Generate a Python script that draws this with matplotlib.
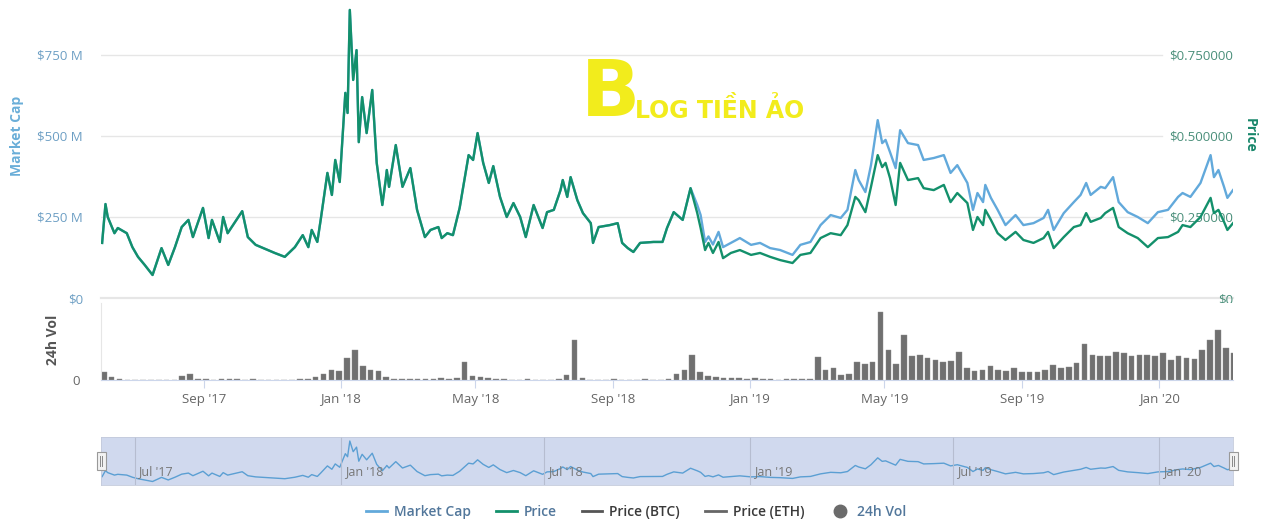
import matplotlib
matplotlib.use('Agg')
import matplotlib.pyplot as plt
import matplotlib.dates as mdates
from matplotlib.lines import Line2D
from matplotlib.patches import Rectangle
import pandas as pd

plt.rcParams['font.family'] = ['Open Sans', 'DejaVu Sans']

# Datos
fechas = ['2017-06-02', '2017-06-05', '2017-06-07', '2017-06-13', '2017-06-16', '2017-06-24', '2017-06-29',
          '2017-07-04', '2017-07-10', '2017-07-17', '2017-07-25', '2017-07-31', '2017-08-06', '2017-08-12',
          '2017-08-18', '2017-08-22', '2017-08-31', '2017-09-05', '2017-09-08', '2017-09-15', '2017-09-18',
          '2017-09-22', '2017-10-05', '2017-10-10', '2017-10-17', '2017-10-28', '2017-11-03', '2017-11-12',
          '2017-11-21', '2017-11-28', '2017-12-03', '2017-12-06', '2017-12-11', '2017-12-14', '2017-12-20',
          '2017-12-24', '2017-12-27', '2017-12-31', '2018-01-05', '2018-01-07', '2018-01-09', '2018-01-12',
          '2018-01-15', '2018-01-17', '2018-01-20', '2018-01-24', '2018-01-29', '2018-02-02', '2018-02-07',
          '2018-02-10', '2018-02-11', '2018-02-13', '2018-02-19', '2018-02-25', '2018-03-04', '2018-03-10',
          '2018-03-17', '2018-03-22', '2018-03-29', '2018-04-01', '2018-04-06', '2018-04-11', '2018-04-17',
          '2018-04-25', '2018-04-29', '2018-05-03', '2018-05-08', '2018-05-13', '2018-05-17', '2018-05-23',
          '2018-05-29', '2018-06-04', '2018-06-10', '2018-06-15', '2018-06-22', '2018-06-30', '2018-07-04',
          '2018-07-10', '2018-07-16', '2018-07-18', '2018-07-22', '2018-07-25', '2018-07-31', '2018-08-05',
          '2018-08-12', '2018-08-14', '2018-08-19', '2018-08-29', '2018-09-05', '2018-09-09', '2018-09-14',
          '2018-09-19', '2018-09-25', '2018-10-07', '2018-10-15', '2018-10-19', '2018-10-25', '2018-11-02',
          '2018-11-09', '2018-11-15', '2018-11-18', '2018-11-22', '2018-11-25', '2018-11-29', '2018-12-04',
          '2018-12-08', '2018-12-15', '2018-12-23', '2019-01-02', '2019-01-10', '2019-01-19', '2019-01-28',
          '2019-02-08', '2019-02-15', '2019-02-24', '2019-03-05', '2019-03-14', '2019-03-23', '2019-03-29',
          '2019-04-05', '2019-04-08', '2019-04-14', '2019-04-19', '2019-04-25', '2019-04-29', '2019-05-02',
          '2019-05-06', '2019-05-11', '2019-05-15', '2019-05-22', '2019-05-31', '2019-06-05', '2019-06-14',
          '2019-06-23', '2019-06-29', '2019-07-05', '2019-07-14', '2019-07-19', '2019-07-23', '2019-07-28',
          '2019-07-30', '2019-08-04', '2019-08-10', '2019-08-17', '2019-08-26', '2019-09-02', '2019-09-11',
          '2019-09-20', '2019-09-24', '2019-09-29', '2019-10-08', '2019-10-17', '2019-10-23', '2019-10-28',
          '2019-11-01', '2019-11-10', '2019-11-14', '2019-11-21', '2019-11-26', '2019-12-04', '2019-12-13',
          '2019-12-22', '2019-12-31', '2020-01-09', '2020-01-18', '2020-01-22', '2020-01-29', '2020-02-07',
          '2020-02-16', '2020-02-19', '2020-02-23', '2020-02-28', '2020-03-02', '2020-03-07']

market_cap = [170, 290, 250, 200, 216, 200, 157, 127, 102, 71, 154, 102, 157, 219, 241, 188, 278, 185, 241, 173,
              250, 200, 268, 188, 164, 148, 139, 127, 157, 194, 157, 210, 173, 241, 386, 318, 426, 358, 633, 571,
              889, 673, 765, 481, 620, 509, 642, 417, 287, 364, 395, 343, 472, 343, 401, 272, 188, 210, 219, 185,
              200, 194, 278, 441, 426, 509, 417, 355, 407, 312, 250, 293, 250, 188, 287, 216, 265, 272, 333, 364,
              312, 373, 302, 262, 231, 170, 219, 225, 231, 170, 154, 142, 170, 173, 173, 216, 265, 241, 339,
              287, 256, 173, 190, 165, 204, 157, 170, 185, 164, 170, 154, 148, 133, 164, 173, 225, 256, 247, 272,
              395, 364, 327, 410, 549, 478, 488, 450, 401, 518, 478, 472, 426, 432, 441, 386, 410, 355, 272, 324,
              296, 349, 309, 272, 225, 256, 225, 231, 247, 272, 210, 262, 296, 318, 355, 318, 343, 339, 373, 296,
              265, 250, 231, 265, 272, 312, 324, 312, 355, 441, 373, 395, 343, 309, 333]

precio = [0.170, 0.290, 0.250, 0.200, 0.216, 0.200, 0.157, 0.127, 0.102, 0.071, 0.154, 0.102, 0.157, 0.219,
          0.241, 0.188, 0.278, 0.185, 0.241, 0.173, 0.250, 0.200, 0.268, 0.188, 0.164, 0.148, 0.139, 0.127,
          0.157, 0.194, 0.157, 0.210, 0.173, 0.241, 0.386, 0.318, 0.426, 0.358, 0.633, 0.571, 0.889, 0.673,
          0.765, 0.481, 0.620, 0.509, 0.642, 0.417, 0.287, 0.364, 0.395, 0.343, 0.472, 0.343, 0.401, 0.272,
          0.188, 0.210, 0.219, 0.185, 0.200, 0.194, 0.278, 0.441, 0.426, 0.509, 0.417, 0.355, 0.407, 0.312,
          0.250, 0.293, 0.250, 0.188, 0.287, 0.216, 0.265, 0.272, 0.333, 0.364, 0.312, 0.373, 0.302, 0.262,
          0.231, 0.170, 0.219, 0.225, 0.231, 0.170, 0.154, 0.142, 0.170, 0.173, 0.173, 0.216, 0.265, 0.241,
          0.339, 0.262, 0.216, 0.148, 0.170, 0.139, 0.173, 0.123, 0.139, 0.148, 0.133, 0.139, 0.127, 0.117,
          0.108, 0.133, 0.139, 0.185, 0.200, 0.194, 0.225, 0.312, 0.302, 0.265, 0.343, 0.441, 0.404, 0.417,
          0.370, 0.287, 0.417, 0.364, 0.370, 0.339, 0.333, 0.349, 0.296, 0.324, 0.293, 0.210, 0.250, 0.225,
          0.272, 0.241, 0.200, 0.179, 0.204, 0.179, 0.170, 0.185, 0.204, 0.154, 0.188, 0.219, 0.225, 0.262,
          0.235, 0.247, 0.262, 0.278, 0.219, 0.200, 0.185, 0.157, 0.185, 0.188, 0.204, 0.225, 0.219, 0.250,
          0.309, 0.262, 0.272, 0.235, 0.210, 0.231]

# Volumen 24h semanal (unidades relativas)
vol_inicio = '2017-06-01'
volumen = [8, 3, 1, 0, 0, 0, 0, 0, 0, 0, 4, 6, 1, 1, 0, 1, 1, 1, 0, 1,
           0, 0, 0, 0, 0, 1, 1, 3, 6, 10, 9, 22, 30, 14, 10, 9, 3, 1, 1, 1,
           1, 1, 1, 2, 1, 2, 18, 4, 3, 2, 1, 1, 0, 0, 1, 0, 0, 0, 1, 5,
           40, 2, 0, 0, 0, 1, 0, 0, 0, 1, 0, 0, 1, 6, 10, 25, 8, 4, 3, 2,
           2, 2, 1, 2, 1, 1, 0, 1, 1, 1, 1, 23, 10, 12, 5, 6, 18, 16, 18, 68,
           30, 16, 45, 24, 25, 22, 20, 18, 19, 28, 12, 9, 10, 14, 10, 9, 12, 8, 8, 8,
           10, 15, 12, 13, 17, 36, 25, 24, 24, 28, 27, 24, 25, 25, 24, 27, 20, 24, 22, 21,
           30, 40, 50, 32, 27]

etiquetas_cap = ['$0', '$250 M', '$500 M', '$750 M']
etiquetas_precio = ['$0', '$0.250000', '$0.500000', '$0.750000']
leyenda = ['Market Cap', 'Price', 'Price (BTC)', 'Price (ETH)', '24h Vol']

AZUL = '#62a9db'
VERDE = '#13906b'
W, H = 1280, 519

def caja(x0, y0, x1, y1):  # pixeles -> coordenadas de figura
    return [x0 / W, 1 - y1 / H, (x1 - x0) / W, (y1 - y0) / H]

fechas = pd.to_datetime(fechas)
fechas_vol = pd.date_range(vol_inicio, periods=len(volumen), freq='7D')
x0, x1 = pd.Timestamp('2017-06-01'), pd.Timestamp('2020-03-07')

fig = plt.figure(figsize=(12.8, 5.19), dpi=100)

# Panel principal
ax = fig.add_axes(caja(101, 8, 1233, 298))
ax2 = ax.twinx()
ax.plot(fechas, market_cap, color=AZUL, lw=1.7, zorder=3)
ax2.plot(fechas, precio, color=VERDE, lw=1.7, zorder=3)
ax.set_xlim(x0, x1)
ax.set_ylim(0, 895)
ax2.set_ylim(0, 0.895)
for v in [250, 500, 750]:
    ax.axhline(v, xmin=0, xmax=0.937, color='#e6e6e6', lw=1, zorder=0)
for s in ['top', 'right', 'left']:
    ax.spines[s].set_visible(False)
ax.spines['bottom'].set_color('#e6e6e6')
ax.spines['bottom'].set_linewidth(1.6)
for s in ax2.spines.values():
    s.set_visible(False)
ax.set_yticks([0, 250, 500, 750], labels=etiquetas_cap)
ax.tick_params(axis='y', length=0, pad=13, labelcolor='#6d9fc4', labelsize=9.5)
ax.tick_params(axis='x', bottom=False, labelbottom=False)
ax2.set_yticks([0, 0.25, 0.5, 0.75], labels=etiquetas_precio)
ax2.tick_params(axis='y', length=0, pad=0, labelcolor='#4a8f7a', labelsize=9.5)
for lbl in ax2.get_yticklabels():
    lbl.set_horizontalalignment('right')
ax.set_ylabel('Market Cap', color='#6aaed8', fontsize=10, fontweight='bold')
ax.yaxis.set_label_coords(-0.068, 0.56)
ax2.set_ylabel('Price', color='#17866a', fontsize=10, fontweight='bold', rotation=-90, va='center')
ax2.yaxis.set_label_coords(1.015, 0.56)

# Panel volumen
axv = fig.add_axes(caja(101, 303, 1233, 380), sharex=ax)
axv.bar(fechas_vol, volumen, width=5.0, color='#707070', edgecolor='#8c8c8c', lw=0.3, align='edge')
axv.set_ylim(0, 77)
axv.set_yticks([0], labels=['0'])
axv.tick_params(axis='y', length=0, pad=15, labelcolor='#666666', labelsize=9.5)
axv.xaxis.set_major_locator(mdates.MonthLocator(bymonth=[1, 5, 9]))
axv.xaxis.set_major_formatter(mdates.DateFormatter("%b '%y"))
axv.tick_params(axis='x', length=6, color='#ccd6eb', labelcolor='#666666', labelsize=9.5, pad=3)
for s in ['top', 'right']:
    axv.spines[s].set_visible(False)
axv.spines['left'].set_color('#e6e6e6')
axv.spines['bottom'].set_color('#ccd6eb')
axv.set_ylabel('24h Vol', color='#555555', fontsize=10, fontweight='bold')
axv.yaxis.set_label_coords(-0.036, 0.52)

# Navegador
axn = fig.add_axes(caja(101, 437, 1233, 485))
axn.set_facecolor('#d0d9ee')
axn.plot(fechas, market_cap, color='#5b9fd3', lw=1)
axn.set_xlim(x0, x1)
axn.set_ylim(0, 970)
axn.set_xticks([])
axn.set_yticks([])
for s in axn.spines.values():
    s.set_color('#c3cadb')
    s.set_linewidth(0.6)
for t in pd.date_range('2017-07-01', '2020-01-01', freq='6MS'):
    axn.axvline(t, color='#b6bdd0', lw=0.8)
    axn.text(mdates.date2num(t) + 3.5, 0.27, t.strftime("%b '%y"), transform=axn.get_xaxis_transform(),
             fontsize=9, color='#777777', ha='left', va='center')

# Manijas del navegador
for xc in [101, 1233]:
    fig.add_artist(Rectangle(((xc - 4.5) / W, 1 - 470 / H), 9 / W, 18 / H, transform=fig.transFigure,
                             facecolor='#f2f2f2', edgecolor='#999999', lw=0.8))
    for dx in [-1.2, 1.2]:
        fig.add_artist(Line2D([(xc + dx) / W] * 2, [1 - 466 / H, 1 - 456 / H], transform=fig.transFigure,
                              color='#888888', lw=0.7))

# Logo
fig.text(610 / W, 1 - 94 / H, 'B', fontsize=56, color='#f2ec1c', fontweight='bold', ha='center', va='center',
         family=['Liberation Sans Narrow', 'DejaVu Sans'])
fig.text(635 / W, 1 - 110 / H, 'LOG TIỀN ẢO', fontsize=17, color='#f2ec1c', fontweight='bold', va='center',
         family=['Liberation Sans Narrow', 'DejaVu Sans'])

# Leyenda
handles = [Line2D([], [], color=AZUL, lw=2), Line2D([], [], color=VERDE, lw=2),
           Line2D([], [], color='#555555', lw=2), Line2D([], [], color='#666666', lw=2),
           Line2D([], [], marker='o', ls='none', color='#6b6b6b', markersize=9)]
leg = fig.legend(handles, leyenda, loc='center', bbox_to_anchor=(0.497, 0.0135), ncol=5, frameon=False,
                 fontsize=10, handlelength=1.5, handletextpad=0.5, columnspacing=1.8)
for txt, c in zip(leg.get_texts(), ['#52779b', '#52779b', '#3a3a3a', '#3a3a3a', '#52779b']):
    txt.set_color(c)
    txt.set_fontweight('semibold')

fig.savefig('out.png', dpi=100)
